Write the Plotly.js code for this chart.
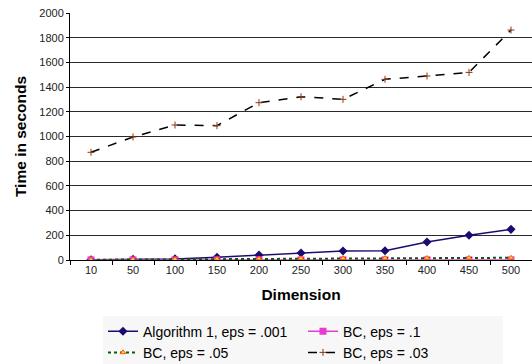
<!DOCTYPE html>
<html><head><meta charset="utf-8">
<script src="https://cdn.plot.ly/plotly-3.0.1.min.js"></script>
<style>html,body{margin:0;padding:0;background:#fff}#c{width:532px;height:364px}</style>
</head><body><div id="c"></div>
<script>
var dims = ["10","50","100","150","200","250","300","350","400","450","500"];
var alg1 = [2, 5, 9, 22, 40, 57, 73, 75, 146, 200, 248];
var bc1 = [1, 1, 1, 1, 1, 1, 1, 1, 1, 1, 1];
var bc05 = [2, 4, 6, 9, 11, 13, 14, 15, 16, 17, 18];
var bc03 = [872, 996, 1093, 1088, 1274, 1322, 1301, 1463, 1490, 1519, 1862];
var names = ["Algorithm 1, eps = .001", "BC, eps = .1", "BC, eps = .05", "BC, eps = .03"];

var traces = [
  {x: dims, y: alg1, name: names[0], mode: 'lines+markers',
   line: {color: '#1e0a6e', width: 1.5}, marker: {symbol: 'diamond', size: 7, color: '#1e0a6e'}},
  {x: dims, y: bc1, name: names[1], mode: 'lines+markers',
   line: {color: '#e040d0', width: 1.5}, marker: {symbol: 'square', size: 7, color: '#e83cd0'}},
  {x: dims, y: bc05, name: names[2], mode: 'lines+markers',
   line: {color: '#0a5a0a', width: 2, dash: 'dot'}, marker: {symbol: 'triangle-up', size: 5, color: '#ffd040', line: {color: '#ff5a00', width: 1}}},
  {x: dims, y: bc03, name: names[3], mode: 'lines+markers',
   line: {color: '#000000', width: 1.5, dash: 'dash'}, marker: {symbol: 'cross-thin-open', size: 5, color: '#8b3a10', line: {color: '#8b3a10', width: 1}}}
];

var layout = {
  width: 532, height: 364,
  margin: {l: 70, r: 0, t: 13, b: 104, autoexpand: false},
  paper_bgcolor: '#ffffff', plot_bgcolor: '#ffffff',
  font: {family: 'Liberation Sans, Arial, sans-serif', color: '#000', size: 11},
  showlegend: true,
  xaxis: {
    type: 'category', range: [-0.5, 10.5],
    showline: true, linecolor: '#000', linewidth: 1,
    ticks: 'outside', tickson: 'boundaries', ticklen: 4, tickcolor: '#000',
    showgrid: false, tickfont: {size: 11, color: '#222'},
    title: {text: 'Dimension', font: {size: 15.5, family: 'Liberation Sans, Arial, sans-serif', weight: 'bold'}, standoff: 13}
  },
  yaxis: {
    range: [0, 2000], dtick: 200,
    showline: true, linecolor: '#000', linewidth: 1,
    ticks: 'outside', ticklen: 3, tickcolor: '#000',
    showgrid: true, gridcolor: '#2a2a2a', gridwidth: 1, zeroline: false,
    tickfont: {size: 11, color: '#222'},
    title: {text: 'Time in seconds', font: {size: 15.5, family: 'Liberation Sans, Arial, sans-serif', weight: 'bold'}, standoff: 8}
  },
  legend: {
    orientation: 'h', x: 0.0714, xanchor: 'left', y: -0.225, yanchor: 'top',
    bgcolor: '#f7f7f7', font: {size: 14},
    entrywidth: 155, entrywidthmode: 'pixels', tracegroupgap: 0, itemwidth: 30
  }
};
Plotly.newPlot('c', traces, layout, {displayModeBar: false, staticPlot: true});
</script></body></html>
